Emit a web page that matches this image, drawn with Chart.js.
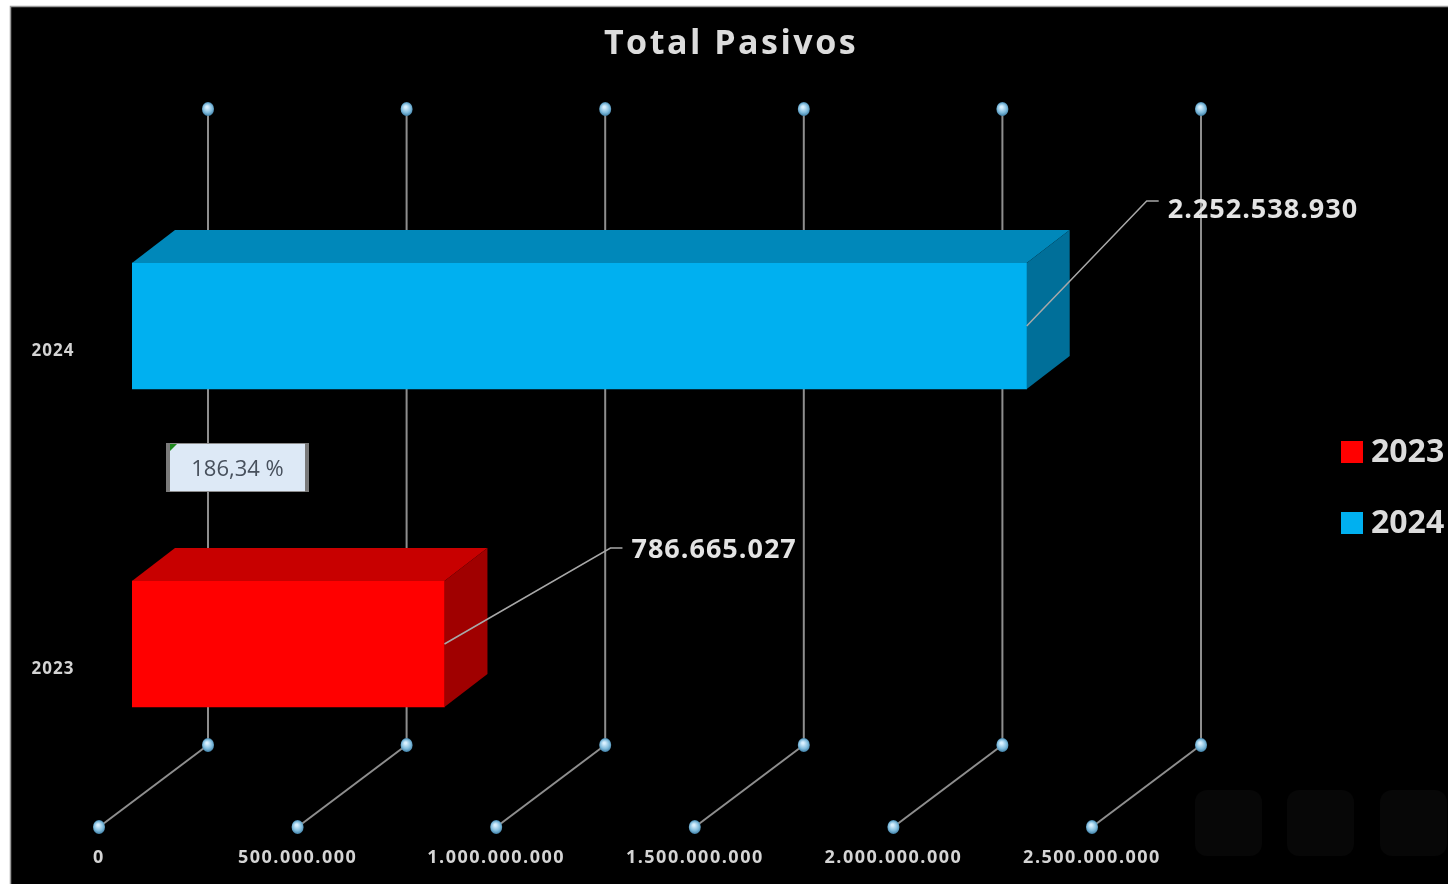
<!DOCTYPE html>
<html>
<head>
<meta charset="utf-8">
<script src="https://cdn.jsdelivr.net/npm/chart.js@4.4.1/dist/chart.umd.min.js"></script>
<style>
  html, body { margin: 0; padding: 0; background: #ffffff; }
  #wrap { position: relative; width: 1448px; height: 884px; }
  canvas { display: block; }
</style>
</head>
<body>
<div id="wrap"><canvas id="c" width="1448" height="884"></canvas></div>
<script>
// ---- data ----
const chartTitle = 'Total Pasivos';
const categories = ['2024', '2023'];          // top to bottom
const seriesNames = ['2023', '2024'];
const values2023 = [null, 786665027];
const values2024 = [2252538930, null];
const tickValues = [0, 500000000, 1000000000, 1500000000, 2000000000, 2500000000];
const axisMax = 2500000000;

// ---- styles ----
const frontColors = { '2023': '#ff0000', '2024': '#00b0f0' };
const topColors   = { '2023': '#c80000', '2024': '#0088ba' };
const sideColors  = { '2023': '#a00000', '2024': '#006f99' };

function fmt(v) {
  return Math.round(v).toString().replace(/\B(?=(\d{3})+(?!\d))/g, '.');
}

const DEPTH_X = 43, DEPTH_Y = 33;     // bar depth
const BACK_X = 76, BACK_Y = 58;       // back wall offset vs. bar scale
const FRONT_X = -33, FRONT_Y = 24;    // front floor edge offset

function dot(ctx, x, y) {
  const g = ctx.createRadialGradient(x - 1, y - 2, 1, x, y, 7);
  g.addColorStop(0, '#d8f0ff');
  g.addColorStop(0.6, '#7fbbdc');
  g.addColorStop(1, '#3f7fa6');
  ctx.fillStyle = g;
  ctx.beginPath();
  ctx.ellipse(x, y, 6, 7, 0, 0, Math.PI * 2);
  ctx.fill();
}

const backgroundPlugin = {
  id: 'bg',
  beforeDraw(chart) {
    const ctx = chart.ctx;
    ctx.save();
    ctx.fillStyle = '#ffffff';
    ctx.fillRect(0, 0, chart.width, chart.height);
    ctx.fillStyle = '#000000';
    ctx.fillRect(11, 7, chart.width - 11, chart.height - 7);
    ctx.strokeStyle = '#9a9a9a';
    ctx.lineWidth = 1.5;
    ctx.beginPath();
    ctx.moveTo(10.5, 884); ctx.lineTo(10.5, 6.5); ctx.lineTo(1448, 6.5);
    ctx.stroke();
    // faint toolbar shapes bottom-right
    ctx.fillStyle = '#070707';
    [[1195, 790], [1287, 790], [1380, 790]].forEach(([x, y]) => {
      ctx.beginPath();
      ctx.roundRect(x, y, 67, 66, 12);
      ctx.fill();
    });
    // title
    ctx.fillStyle = '#dcdcdc';
    ctx.font = 'bold 34px "Open Sans"';
    ctx.letterSpacing = '2.5px';
    ctx.textAlign = 'center';
    ctx.textBaseline = 'middle';
    ctx.fillText(chartTitle, 731, 44);
    ctx.restore();
  }
};

const wallPlugin = {
  id: 'wall',
  beforeDatasetsDraw(chart) {
    const ctx = chart.ctx;
    const xs = chart.scales.x;
    const ca = chart.chartArea;
    const topY = ca.top - BACK_Y, backBottom = ca.bottom - BACK_Y, frontBottom = ca.bottom + FRONT_Y;
    ctx.save();
    ctx.strokeStyle = '#8e8e8e';
    ctx.lineWidth = 2;
    tickValues.forEach(v => {
      const px = xs.getPixelForValue(v);
      ctx.beginPath();
      ctx.moveTo(px + BACK_X, topY);
      ctx.lineTo(px + BACK_X, backBottom);
      ctx.stroke();
      ctx.beginPath();
      ctx.moveTo(px + BACK_X, backBottom);
      ctx.lineTo(px + FRONT_X, frontBottom);
      ctx.stroke();
    });
    tickValues.forEach(v => {
      const px = xs.getPixelForValue(v);
      dot(ctx, px + BACK_X, topY);
      dot(ctx, px + BACK_X, backBottom);
      dot(ctx, px + FRONT_X, frontBottom);
    });
    // tick labels
    ctx.fillStyle = '#d4d4d4';
    ctx.font = 'bold 18px "Open Sans"';
    ctx.letterSpacing = '1.5px';
    ctx.textAlign = 'center';
    ctx.textBaseline = 'middle';
    tickValues.forEach(v => {
      const px = xs.getPixelForValue(v);
      ctx.fillText(fmt(v), px + FRONT_X, frontBottom + 31);
    });
    // category labels
    const ys = chart.scales.y;
    ctx.font = 'bold 17px "Open Sans"';
    ctx.letterSpacing = '1px';
    categories.forEach((c, i) => {
      ctx.fillText(c, 53, ys.getPixelForValue(i) + 25);
    });
    ctx.restore();
  }
};

// leader elbow offset [dx, dy] and text vertical shift
const labelOffsets = { '2023': [166, -96, 2], '2024': [120, -125, 9] };

const barsPlugin = {
  id: 'bars3d',
  afterDatasetsDraw(chart) {
    const ctx = chart.ctx;
    ctx.save();
    chart.data.datasets.forEach((ds, di) => {
      const meta = chart.getDatasetMeta(di);
      meta.data.forEach((el, i) => {
        if (ds.data[i] == null) return;
        const p = el.getProps(['x', 'y', 'base', 'height'], true);
        const x0 = Math.min(p.base, p.x), x1 = Math.max(p.base, p.x);
        const t = p.y - p.height / 2, b = p.y + p.height / 2;
        // top face
        ctx.fillStyle = topColors[ds.label];
        ctx.beginPath();
        ctx.moveTo(x0, t); ctx.lineTo(x0 + DEPTH_X, t - DEPTH_Y);
        ctx.lineTo(x1 + DEPTH_X, t - DEPTH_Y); ctx.lineTo(x1, t);
        ctx.closePath(); ctx.fill();
        // side face
        ctx.fillStyle = sideColors[ds.label];
        ctx.beginPath();
        ctx.moveTo(x1, t); ctx.lineTo(x1 + DEPTH_X, t - DEPTH_Y);
        ctx.lineTo(x1 + DEPTH_X, b - DEPTH_Y); ctx.lineTo(x1, b);
        ctx.closePath(); ctx.fill();
        // leader line + label
        const [dx, dy, ty] = labelOffsets[ds.label];
        const sx = x1, sy = p.y;
        ctx.strokeStyle = '#a8a8a8';
        ctx.lineWidth = 1.5;
        ctx.beginPath();
        ctx.moveTo(sx, sy); ctx.lineTo(sx + dx, sy + dy); ctx.lineTo(sx + dx + 12, sy + dy);
        ctx.stroke();
        ctx.fillStyle = '#e4e4e4';
        ctx.font = 'bold 27px "Open Sans"';
        ctx.letterSpacing = '1px';
        ctx.textAlign = 'left';
        ctx.textBaseline = 'middle';
        ctx.fillText(fmt(ds.data[i]), sx + dx + 21, sy + dy + ty);
      });
    });
    ctx.restore();
  }
};

const extrasPlugin = {
  id: 'extras',
  afterDraw(chart) {
    const ctx = chart.ctx;
    const xs = chart.scales.x, ys = chart.scales.y;
    ctx.save();
    // percentage box
    const v23 = values2023.find(v => v != null);
    const v24 = values2024.find(v => v != null);
    const pct = ((v24 / v23) - 1) * 100;
    const bx = xs.getPixelForValue(0) + 35;
    const by = (ys.getPixelForValue(0) + ys.getPixelForValue(1)) / 2 - 42;
    const bw = 141, bh = 49;
    ctx.fillStyle = '#dde9f6';
    ctx.fillRect(bx, by, bw, bh);
    ctx.strokeStyle = '#8c8c8c';
    ctx.lineWidth = 1;
    ctx.strokeRect(bx + 0.5, by + 0.5, bw - 1, bh - 1);
    ctx.fillStyle = '#7a7a7a';
    ctx.fillRect(bx - 1, by, 4, bh);
    ctx.fillRect(bx + bw - 3, by, 4, bh);
    ctx.fillStyle = '#1f8a1f';
    ctx.beginPath();
    ctx.moveTo(bx + 3, by + 1); ctx.lineTo(bx + 10, by + 1); ctx.lineTo(bx + 3, by + 8);
    ctx.closePath(); ctx.fill();
    ctx.fillStyle = '#47505c';
    ctx.font = '22px "Open Sans"';
    ctx.textAlign = 'center';
    ctx.textBaseline = 'middle';
    ctx.fillText(pct.toFixed(2).replace('.', ',') + ' %', bx + bw / 2, by + bh / 2 + 2);
    // legend
    ctx.font = 'bold 32px "Open Sans"';
    ctx.textAlign = 'left';
    chart.data.datasets.forEach((ds, i) => {
      const ly = 452 + i * 71;
      ctx.fillStyle = frontColors[ds.label];
      ctx.fillRect(1341, ly - 11, 22, 22);
      ctx.fillStyle = '#dcdcdc';
      ctx.fillText(ds.label, 1371, ly + 1);
    });
    ctx.restore();
  }
};

new Chart(document.getElementById('c'), {
  type: 'bar',
  data: {
    labels: categories,
    datasets: [
      { label: seriesNames[0], data: values2023, backgroundColor: frontColors['2023'], borderWidth: 0 },
      { label: seriesNames[1], data: values2024, backgroundColor: frontColors['2024'], borderWidth: 0 }
    ]
  },
  options: {
    indexAxis: 'y',
    responsive: false,
    animation: false,
    barThickness: 126,
    layout: { padding: { left: 132, right: 323, top: 167, bottom: 81 } },
    scales: {
      x: { display: false, stacked: true, min: 0, max: axisMax },
      y: { display: false, stacked: true }
    },
    plugins: {
      legend: { display: false },
      tooltip: { enabled: false },
      title: { display: false }
    }
  },
  plugins: [backgroundPlugin, wallPlugin, barsPlugin, extrasPlugin]
});
</script>
</body>
</html>
